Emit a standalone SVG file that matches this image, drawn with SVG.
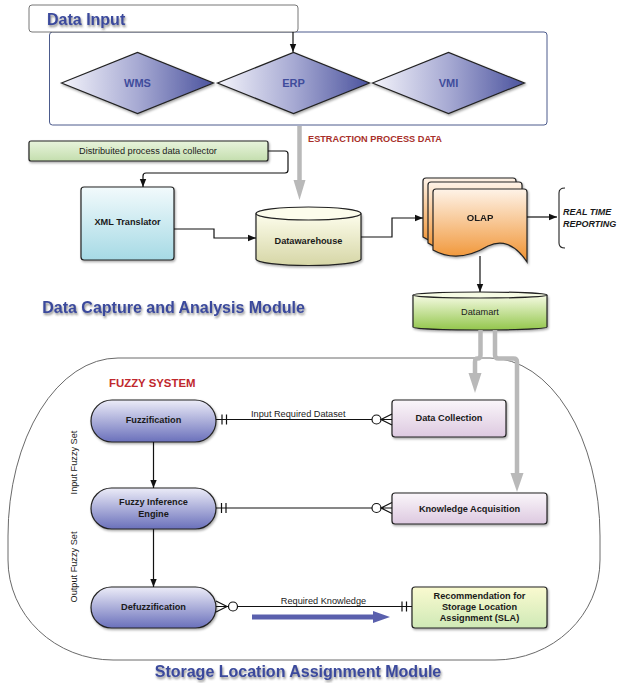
<svg xmlns="http://www.w3.org/2000/svg" width="618" height="683" viewBox="0 0 618 683">
<defs>
<style>
text{font-family:"Liberation Sans",Arial,sans-serif;fill:#1a1a1a}
.b{font-weight:bold;font-size:9.2px}
.r{font-size:9.2px}
.c{text-anchor:middle}
.title{font-weight:bold;font-size:16px;fill:#3b4a9c}
.dlab{font-weight:bold;font-size:11px;fill:#3f4c9c;text-anchor:middle}
.red{font-weight:bold;fill:#a8302a}
.edge{fill:none;stroke:#111;stroke-width:1.2}
.gray{fill:none;stroke:#b9b9b9;stroke-width:4.5}
.gh{fill:#b9b9b9}
.node{stroke:#222;stroke-width:1.2}
</style>
<linearGradient id="gDia" x1="0" y1="0" x2="1" y2="0"><stop offset="0" stop-color="#f4f4fb"/><stop offset="0.5" stop-color="#a7aad3"/><stop offset="1" stop-color="#4b539e"/></linearGradient>
<linearGradient id="gPill" x1="0" y1="0" x2="0" y2="1"><stop offset="0" stop-color="#ececf8"/><stop offset="1" stop-color="#6a70bb"/></linearGradient>
<linearGradient id="gPink" x1="0" y1="0" x2="0" y2="1"><stop offset="0" stop-color="#faf6fa"/><stop offset="1" stop-color="#ddc9e0"/></linearGradient>
<linearGradient id="gRec" x1="0" y1="0" x2="0" y2="1"><stop offset="0" stop-color="#fafad0"/><stop offset="1" stop-color="#cfe9b6"/></linearGradient>
<linearGradient id="gXml" x1="0" y1="0" x2="0" y2="1"><stop offset="0" stop-color="#f2fafc"/><stop offset="1" stop-color="#a6dae5"/></linearGradient>
<linearGradient id="gDist" x1="0" y1="0" x2="0" y2="1"><stop offset="0" stop-color="#e8f4dc"/><stop offset="1" stop-color="#c4deae"/></linearGradient>
<linearGradient id="gDw" x1="0" y1="0" x2="0" y2="1"><stop offset="0" stop-color="#fdfdec"/><stop offset="1" stop-color="#d6d6a6"/></linearGradient>
<linearGradient id="gDm" x1="0" y1="0" x2="0" y2="1"><stop offset="0" stop-color="#f6fbe4"/><stop offset="1" stop-color="#93c64c"/></linearGradient>
<linearGradient id="gOlap" x1="0" y1="0" x2="0" y2="1"><stop offset="0" stop-color="#fef3e8"/><stop offset="1" stop-color="#f0912e"/></linearGradient>
<filter id="sh" x="-10%" y="-10%" width="130%" height="140%"><feDropShadow dx="1" dy="1.5" stdDeviation="1.2" flood-color="#000" flood-opacity="0.35"/></filter>
<filter id="tsh" x="-5%" y="-30%" width="115%" height="180%"><feDropShadow dx="1" dy="2" stdDeviation="1.3" flood-color="#333" flood-opacity="0.55"/></filter>
<marker id="arr" viewBox="0 0 10 10" refX="10" refY="5" markerWidth="8" markerHeight="8" markerUnits="userSpaceOnUse" orient="auto"><path d="M0,1 L10,5 L0,9 Z" fill="#111"/></marker>
</defs>
<rect width="618" height="683" fill="#fff"/>

<!-- Data Input module -->
<g id="data-input-frame">
<rect x="49.5" y="32" width="497.5" height="93" rx="3" fill="none" stroke="#4c5b8c" stroke-width="1"/>
<rect x="29" y="5" width="269" height="27" rx="3" fill="#fff" stroke="#666" stroke-width="0.9"/>
<text x="47" y="25" class="title" filter="url(#tsh)">Data Input</text>
</g>
<g id="wms"><polygon class="node" points="61.5,83 137.5,52.5 213.5,83 137.5,113.5" fill="url(#gDia)" filter="url(#sh)"/><text x="137.5" y="87" class="dlab">WMS</text></g>
<g id="erp"><polygon class="node" points="217.5,83 293.5,52.5 369.5,83 293.5,113.5" fill="url(#gDia)" filter="url(#sh)"/><text x="293.5" y="87" class="dlab">ERP</text></g>
<g id="vmi"><polygon class="node" points="372.5,83 448.5,52.5 524.5,83 448.5,113.5" fill="url(#gDia)" filter="url(#sh)"/><text x="448.5" y="87" class="dlab">VMI</text></g>

<!-- Data capture module -->
<g id="distributed-collector"><rect class="node" x="29" y="141" width="239" height="20" rx="2" fill="url(#gDist)" stroke-width="1.4" filter="url(#sh)"/><text x="148" y="154" class="r c">Distribuited process data collector</text></g>
<g id="xml-translator"><rect class="node" x="81" y="187" width="93" height="73" rx="3" fill="url(#gXml)" filter="url(#sh)"/><text x="127.5" y="225" class="b c">XML Translator</text></g>
<g id="datawarehouse">
<path class="node" d="M256,213.5 V259 A52.5,6.5 0 0 0 361,259 V213.5" fill="url(#gDw)" filter="url(#sh)"/>
<ellipse class="node" cx="308.5" cy="213.5" rx="52.5" ry="6.5" fill="#fdfdec"/>
<text x="308.5" y="244" class="b c">Datawarehouse</text>
</g>
<g id="olap" filter="url(#sh)">
<path class="node" d="M426,178 H513 Q516,178 516,181 V240 Q500,226 480,238 Q450,254 423,237 V181 Q423,178 426,178 Z" fill="url(#gOlap)"/>
<path class="node" d="M431,182 H519 Q522,182 522,185 V246 Q505,232 485,244 Q455,260 428,243 V185 Q428,182 431,182 Z" fill="url(#gOlap)"/>
<path class="node" d="M436,189 H524 Q527,189 527,192 V262 Q510,236 488,246 Q458,264 433,250 V192 Q433,189 436,189 Z" fill="url(#gOlap)"/>
<text x="480" y="221" class="b c" style="font-size:9.6px">OLAP</text>
</g>
<g id="real-time-reporting">
<path d="M565,188 Q559,188 559,193 V243 Q559,248 565,248" fill="none" stroke="#222" stroke-width="1.1"/>
<text x="563" y="215" class="b" style="font-style:italic;font-size:9px">REAL TIME</text>
<text x="563" y="227" class="b" style="font-style:italic;font-size:9px">REPORTING</text>
</g>
<g id="datamart">
<path class="node" d="M413,295 V327 A67,3 0 0 0 547,327 V295" fill="url(#gDm)" filter="url(#sh)"/>
<ellipse class="node" cx="480" cy="295" rx="67" ry="3" fill="#f6fbe4"/>
<text x="480" y="315" class="r c">Datamart</text>
</g>
<text x="173.5" y="313" class="title" text-anchor="middle" filter="url(#tsh)">Data Capture and Analysis Module</text>
<text x="308" y="142" class="red" style="font-size:9.2px">ESTRACTION PROCESS DATA</text>

<!-- Storage Location Assignment module -->
<g id="sla-module">
<path d="M118,358 H490 A110,178 0 0 1 600,536 V560 A105,100 0 0 1 495,660 H113 A105,100 0 0 1 8,560 V536 A110,178 0 0 1 118,358 Z" fill="none" stroke="#6a6a6a" stroke-width="1"/>
<text x="109" y="387" class="red" style="font-size:11.4px;fill:#c0282d">FUZZY SYSTEM</text>
<text x="298" y="677" class="title" text-anchor="middle" filter="url(#tsh)">Storage Location Assignment Module</text>
</g>
<g id="fuzzification"><rect class="node" x="91" y="400" width="125" height="42" rx="21" fill="url(#gPill)" filter="url(#sh)"/><text x="153.5" y="422.5" class="b c">Fuzzification</text></g>
<g id="fuzzy-inference-engine"><rect class="node" x="91" y="488" width="125" height="41" rx="20.5" fill="url(#gPill)" filter="url(#sh)"/><text x="153.5" y="505" class="b c">Fuzzy Inference</text><text x="153.5" y="516.5" class="b c">Engine</text></g>
<g id="defuzzification"><rect class="node" x="91" y="587" width="125" height="41" rx="20.5" fill="url(#gPill)" filter="url(#sh)"/><text x="153.5" y="609.5" class="b c">Defuzzification</text></g>
<g id="data-collection"><rect class="node" x="392" y="400" width="114" height="37" rx="3" fill="url(#gPink)" filter="url(#sh)"/><text x="449" y="420.5" class="b c">Data Collection</text></g>
<g id="knowledge-acquisition"><rect class="node" x="392" y="493" width="155" height="31" rx="3" fill="url(#gPink)" filter="url(#sh)"/><text x="469.5" y="511.5" class="b c">Knowledge Acquisition</text></g>
<g id="recommendation"><rect class="node" x="412" y="587" width="135" height="41" rx="3" fill="url(#gRec)" filter="url(#sh)"/>
<text x="479.5" y="598.5" class="b c">Recommendation for</text><text x="479.5" y="609.5" class="b c">Storage Location</text><text x="479.5" y="620.5" class="b c">Assignment (SLA)</text></g>
<text transform="translate(77,462.5) rotate(-90)" class="r c">Input Fuzzy Set</text>
<text transform="translate(77,567) rotate(-90)" class="r c">Output Fuzzy Set</text>

<!-- Connectors -->
<g id="connectors">
<path class="edge" d="M293,32 V52" marker-end="url(#arr)"/>
<path class="edge" d="M268,151 H285 Q288,151 288,154 V170 Q288,173 285,173 H146 Q143,173 143,176 V187" marker-end="url(#arr)"/>
<path class="edge" d="M174,229 H214 V238 H256" marker-end="url(#arr)"/>
<path class="edge" d="M361,237 H392 V218 H423" marker-end="url(#arr)"/>
<path class="edge" d="M527,217 H557" marker-end="url(#arr)"/>
<path class="edge" d="M480,256 V292" marker-end="url(#arr)"/>
<path class="edge" d="M153.5,442 V488" marker-end="url(#arr)"/>
<path class="edge" d="M153.5,529 V587" marker-end="url(#arr)"/>

<path class="gray" d="M299.5,126 V182"/>
<polygon class="gh" points="293.5,180 305.5,180 299.5,200"/>
<path class="gray" d="M480.5,330 V355 Q480.5,358.5 477.5,358.5 Q475,358.5 475,362 V375"/>
<polygon class="gh" points="468.5,373 481.5,373 475,393"/>
<path class="gray" d="M495,330 V355 Q495,358.5 498.5,358.5 H513.5 Q517,358.5 517,362 V475"/>
<polygon class="gh" points="510.5,473 523.5,473 517,492"/>

<g id="er-input-dataset">
<path class="edge" d="M216,419.5 H372"/>
<path class="edge" d="M222,414.5 V424.5 M226.5,414.5 V424.5"/>
<circle cx="376.5" cy="419.5" r="4.5" fill="#fff" stroke="#111" stroke-width="1.2"/>
<path class="edge" d="M392,414 L381,419.5 L392,425 M381,419.5 H392"/>
<text x="251" y="417" class="r">Input Required Dataset</text>
</g>
<g id="er-knowledge">
<path class="edge" d="M216,508 H372" stroke-width="1.6"/>
<path class="edge" d="M221.5,503 V513 M226,503 V513"/>
<circle cx="376.5" cy="508" r="4.5" fill="#fff" stroke="#111" stroke-width="1.2"/>
<path class="edge" d="M392,502.5 L381,508 L392,513.5 M381,508 H392"/>
</g>
<g id="er-required-knowledge">
<path class="edge" d="M216,601 L227,606.5 L216,612 M216,606.5 H228.5"/>
<circle cx="233" cy="606.5" r="4.5" fill="#fff" stroke="#111" stroke-width="1.2"/>
<path class="edge" d="M237.5,606.5 H412"/>
<path class="edge" d="M402,601.5 V611.5 M406.5,601.5 V611.5"/>
<text x="323.5" y="603.5" class="r c">Required Knowledge</text>
<path d="M252,614.5 H373 V611 L390,617 L373,623 V619.5 H252 Z" fill="#5a60ad"/>
</g>
</g>
</svg>
